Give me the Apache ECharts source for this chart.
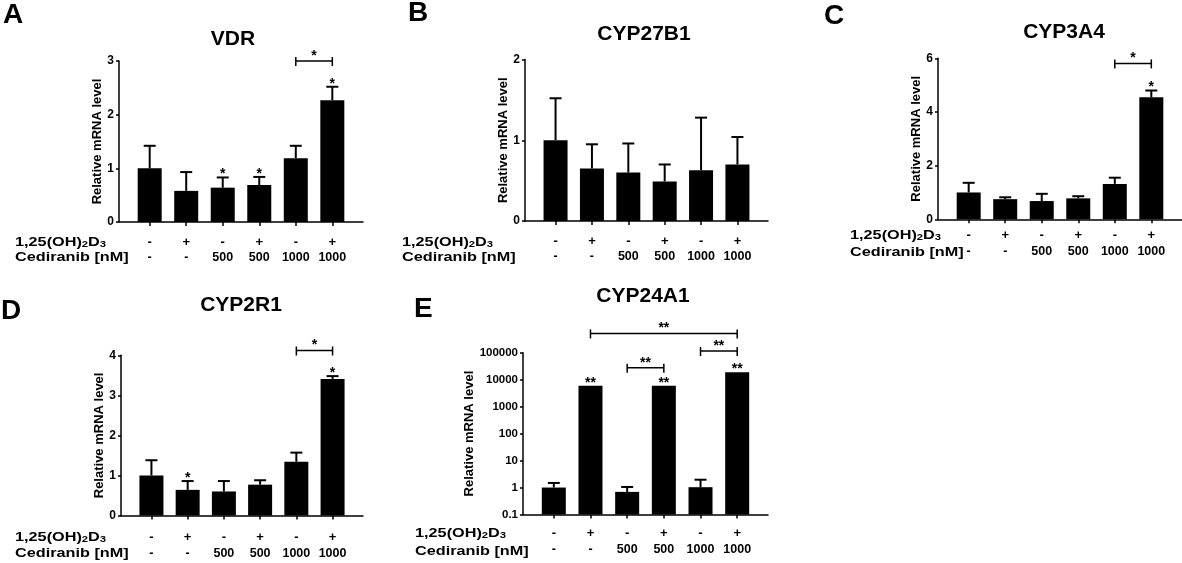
<!DOCTYPE html>
<html>
<head>
<meta charset="utf-8">
<script src="https://cdn.jsdelivr.net/npm/echarts@6/dist/echarts.min.js"></script>
<style>html,body{margin:0;padding:0;background:#fff}#c{width:1182px;height:563px}</style>
</head>
<body>
<div id="c"></div>
<script>
// ---------- DATA ----------
const rowD3 = ['-', '+', '-', '+', '-', '+'];
const rowCediranib = ['-', '-', '500', '500', '1000', '1000'];

const vdrMean = [1.0, 0.58, 0.64, 0.69, 1.19, 2.27];
const vdrUpper = [1.42, 0.93, 0.83, 0.84, 1.42, 2.52];
const vdrStars = ['', '', '*', '*', '', '*'];
const vdrBrackets = [[4, 5, 3.0, '*']];

const cyp27b1Mean = [1.0, 0.65, 0.60, 0.49, 0.63, 0.70];
const cyp27b1Upper = [1.52, 0.95, 0.96, 0.70, 1.28, 1.04];
const cyp27b1Stars = ['', '', '', '', '', ''];
const cyp27b1Brackets = [];

const cyp3a4Mean = [1.0, 0.75, 0.68, 0.78, 1.32, 4.55];
const cyp3a4Upper = [1.36, 0.82, 0.95, 0.86, 1.55, 4.80];
const cyp3a4Stars = ['', '', '', '', '', '*'];
const cyp3a4Brackets = [[4, 5, 5.81, '*']];

const cyp2r1Mean = [1.0, 0.64, 0.60, 0.77, 1.34, 3.41];
const cyp2r1Upper = [1.38, 0.86, 0.86, 0.88, 1.57, 3.48];
const cyp2r1Stars = ['', '*', '', '', '', '*'];
const cyp2r1Brackets = [[4, 5, 4.12, '*']];

const cyp24a1Mean = [1.0, 6000, 0.69, 6000, 1.03, 19000];
const cyp24a1Upper = [1.48, 6000, 1.05, 6000, 1.95, 19000];
const cyp24a1Stars = ['', '**', '', '**', '', '**'];
const cyp24a1Brackets = [[1, 5, 520000, '**'], [2, 3, 27500, '**'], [4, 5, 115000, '**']];
const cyp24a1TickLabels = ['0.1', '1', '10', '100', '1000', '10000', '100000'];

// ---------- LAYOUT ----------
const FAM = "'Liberation Sans', Arial, Helvetica, sans-serif";
const panels = [
  { title: 'VDR', letter: 'A', mean: vdrMean, upper: vdrUpper, stars: vdrStars, brackets: vdrBrackets,
    grid: { left: 119, top: 61, width: 244, height: 161 }, yMax: 3, interval: 1, labelMargin: 12,
    titlePos: [233, 39], letterPos: [3, 15], rowX: 15, rowY: [242, 257] },
  { title: 'CYP27B1', letter: 'B', mean: cyp27b1Mean, upper: cyp27b1Upper, stars: cyp27b1Stars, brackets: cyp27b1Brackets,
    grid: { left: 525, top: 59.5, width: 243, height: 161.5 }, yMax: 2, interval: 1, labelMargin: 12,
    titlePos: [644, 34], letterPos: [408, 13], rowX: 402, rowY: [242, 257] },
  { title: 'CYP3A4', letter: 'C', mean: cyp3a4Mean, upper: cyp3a4Upper, stars: cyp3a4Stars, brackets: cyp3a4Brackets,
    grid: { left: 938, top: 58.3, width: 244, height: 161 }, yMax: 6, interval: 2, labelMargin: 8,
    titlePos: [1064, 32], letterPos: [824, 16], rowX: 850, rowY: [235, 252] },
  { title: 'CYP2R1', letter: 'D', mean: cyp2r1Mean, upper: cyp2r1Upper, stars: cyp2r1Stars, brackets: cyp2r1Brackets,
    grid: { left: 121, top: 355.3, width: 242, height: 160.2 }, yMax: 4, interval: 1, labelMargin: 14,
    titlePos: [241, 305], letterPos: [1, 311], rowX: 15, rowY: [537, 553] },
  { title: 'CYP24A1', letter: 'E', mean: cyp24a1Mean, upper: cyp24a1Upper, stars: cyp24a1Stars, brackets: cyp24a1Brackets,
    grid: { left: 523, top: 352.7, width: 245, height: 161.8 }, log: true, labelMargin: 11,
    titlePos: [643, 296], letterPos: [414, 309], rowX: 415, rowY: [533, 551] }
];

const grids = [], xAxes = [], yAxes = [], series = [], graphics = [];
const idxList = [0, 1, 2, 3, 4, 5];
const bold = (size) => ({ fontWeight: 'bold', fontSize: size, fontFamily: FAM, color: '#000' });

panels.forEach((p, k) => {
  grids.push(Object.assign({ containLabel: false }, p.grid));
  xAxes.push({
    type: 'value', gridIndex: k, min: -0.84, max: 5.84,
    splitLine: { show: false },
    axisLine: { show: true, onZero: false, lineStyle: { color: '#000', width: 1.5 } },
    axisTick: { show: true, length: 4, customValues: idxList, lineStyle: { color: '#000', width: 1.5 } },
    axisLabel: Object.assign(bold(13), {
      show: true, customValues: idxList, margin: p.labelMargin,
      formatter: v => { const i = Math.round(v); return '{a|' + rowD3[i] + '}\n{b|' + rowCediranib[i] + '}'; },
      rich: {
        a: Object.assign(bold(13), { lineHeight: 16 }),
        b: Object.assign(bold(12.5), { lineHeight: 16 })
      }
    })
  });
  const yAx = {
    gridIndex: k,
    name: 'Relative mRNA level', nameLocation: 'middle', nameRotate: 90, nameGap: p.log ? 47 : 14.5,
    nameTextStyle: bold(13),
    splitLine: { show: false },
    axisLine: { show: true, onZero: false, lineStyle: { color: '#000', width: 1.5 } },
    axisTick: { show: true, length: 3, lineStyle: { color: '#000', width: 1.5 } },
    axisLabel: Object.assign(bold(12), { margin: 5 })
  };
  if (p.log) {
    Object.assign(yAx, { type: 'log', logBase: 10, min: 0.1, max: 100000 });
    yAx.axisLabel.fontSize = 11.5;
    yAx.axisLabel.formatter = v => cyp24a1TickLabels[Math.round(Math.log10(v)) + 1];
  } else {
    Object.assign(yAx, { type: 'value', min: 0, max: p.yMax, interval: p.interval });
  }
  yAxes.push(yAx);

  const base = p.log ? 0.1 : 0;
  const stars = p.stars;
  series.push({
    type: 'custom', xAxisIndex: k, yAxisIndex: k, clip: false,
    data: p.mean.map((m, i) => [i, m, p.upper[i]]),
    encode: { x: 0, y: 1 },
    renderItem: (params, api) => {
      const x = api.value(0), m = api.value(1), u = api.value(2);
      const pb = api.coord([x, base]);
      const pt = api.coord([x, m]);
      const pe = api.coord([x, u]);
      const w = 24, cap = 12;
      const ch = [{ type: 'rect', shape: { x: pt[0] - w / 2, y: pt[1], width: w, height: pb[1] - pt[1] }, style: { fill: '#000' } }];
      if (u > m) {
        ch.push({ type: 'line', shape: { x1: pt[0], y1: pt[1], x2: pe[0], y2: pe[1] }, style: { stroke: '#000', lineWidth: 2 } });
        ch.push({ type: 'line', shape: { x1: pe[0] - cap / 2, y1: pe[1], x2: pe[0] + cap / 2, y2: pe[1] }, style: { stroke: '#000', lineWidth: 2 } });
      }
      const s = stars[params.dataIndex];
      if (s) {
        const ty = (u > m ? pe[1] : pt[1]) + 4;
        ch.push({ type: 'text', x: pt[0], y: ty, style: { text: s, align: 'center', verticalAlign: 'bottom', font: 'bold 14px ' + FAM, fill: '#000' } });
      }
      return { type: 'group', children: ch };
    }
  });
  if (p.brackets.length) {
    const br = p.brackets;
    series.push({
      type: 'custom', xAxisIndex: k, yAxisIndex: k, clip: false,
      data: br.map(b => [b[0], b[1], b[2]]),
      encode: { x: [0, 1], y: 2 },
      renderItem: (params, api) => {
        const a = api.coord([api.value(0), api.value(2)]);
        const b = api.coord([api.value(1), api.value(2)]);
        const lab = br[params.dataIndex][3];
        return { type: 'group', children: [
          { type: 'line', shape: { x1: a[0], y1: a[1], x2: b[0], y2: b[1] }, style: { stroke: '#000', lineWidth: 1.5 } },
          { type: 'line', shape: { x1: a[0], y1: a[1] - 4, x2: a[0], y2: a[1] + 5 }, style: { stroke: '#000', lineWidth: 1.5 } },
          { type: 'line', shape: { x1: b[0], y1: b[1] - 4, x2: b[0], y2: b[1] + 5 }, style: { stroke: '#000', lineWidth: 1.5 } },
          { type: 'text', x: (a[0] + b[0]) / 2, y: a[1] + 2, style: { text: lab, align: 'center', verticalAlign: 'bottom', font: 'bold 14px ' + FAM, fill: '#000' } }
        ] };
      }
    });
  }

  graphics.push({ type: 'text', x: p.titlePos[0], y: p.titlePos[1],
    style: { text: p.title, align: 'center', verticalAlign: 'middle', font: 'bold 21px ' + FAM, fill: '#000' } });
  graphics.push({ type: 'text', x: p.letterPos[0], y: p.letterPos[1],
    style: { text: p.letter, align: 'left', verticalAlign: 'middle', font: 'bold 28px ' + FAM, fill: '#000' } });
  graphics.push({ type: 'text', x: p.rowX, y: p.rowY[0], scaleX: 1.25,
    style: { text: '{n|1,25(OH)}{s|2}{n|D}{s|3}', verticalAlign: 'middle', align: 'left', fill: '#000',
      rich: { n: { font: 'bold 13px ' + FAM, fill: '#000' }, s: { font: 'bold 9px ' + FAM, fill: '#000', verticalAlign: 'bottom', padding: [5, 0, 0, 0] } } } });
  graphics.push({ type: 'text', x: p.rowX, y: p.rowY[1], scaleX: 1.25,
    style: { text: 'Cediranib [nM]', verticalAlign: 'middle', align: 'left', font: 'bold 13px ' + FAM, fill: '#000' } });
});

const chart = echarts.init(document.getElementById('c'), null, { renderer: 'canvas' });
chart.setOption({
  backgroundColor: '#fff',
  animation: false,
  grid: grids, xAxis: xAxes, yAxis: yAxes, series: series,
  graphic: graphics
});
</script>
</body>
</html>
